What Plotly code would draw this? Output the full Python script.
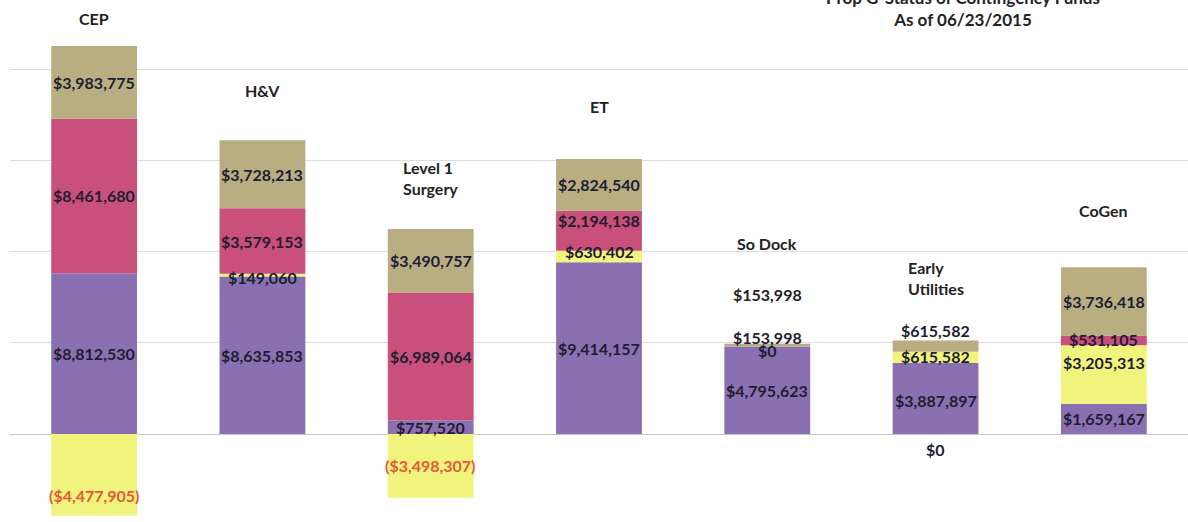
import plotly.graph_objects as go

categories = ["CEP", "H&V", "Level 1<br>Surgery", "ET", "So Dock", "Early<br>Utilities", "CoGen"]
purple_vals = [8812530, 8635853, 757520, 9414157, 4795623, 3887897, 1659167]
yellow_vals = [-4477905, 149060, -3498307, 630402, 0, 615582, 3205313]
red_vals = [8461680, 3579153, 6989064, 2194138, 0, 0, 531105]
olive_vals = [3983775, 3728213, 3490757, 2824540, 153998, 615582, 3736418]
extra_labels = [("So Dock", 153998)]
title_text = "Prop G-Status of Contingency Funds<br>As of 06/23/2015"

series = [
    ("purple", purple_vals, "#8a70b0"),
    ("yellow", yellow_vals, "#f1f47c"),
    ("red", red_vals, "#c9507a"),
    ("olive", olive_vals, "#b8ae82"),
]

# per-label pixel nudges (style only)
label_shift = {
    "purple": [0, 0, 0, 0, 0, -2, 0],
    "yellow": [-21, -2, 0, 5, -4, 1, 12],
    "red": [0, 0, 0, 10, None, -98, 1],
    "olive": [0, 0, 0, 0, 8, 16, 0],
}
cat_shift = [28, 50, 51, 53, 100, 63, 57]

FONT = "Lato"
LBL_COLOR = "#1d1d33"
NEG_COLOR = "#e4583a"
FS = 16


def money(v):
    s = "${:,.0f}".format(abs(v))
    return "(" + s + ")" if v < 0 else s


fig = go.Figure()
for name, vals, color in series:
    fig.add_trace(go.Bar(
        x=categories, y=vals, name=name, marker=dict(color=color, line=dict(width=0)),
        width=0.51, textposition="none", hoverinfo="skip",
    ))

annotations = []
pos_base = [0.0] * len(categories)
neg_base = [0.0] * len(categories)
for name, vals, color in series:
    for i, v in enumerate(vals):
        if v >= 0:
            center = pos_base[i] + v / 2
            pos_base[i] += v
        else:
            center = neg_base[i] + v / 2
            neg_base[i] += v
        sh = label_shift[name][i]
        if sh is None:
            continue
        annotations.append(dict(
            x=categories[i], y=center, text=money(v), showarrow=False,
            xref="x", yref="y", yshift=sh,
            font=dict(family=FONT, size=FS, weight="bold",
                      color=NEG_COLOR if v < 0 else LBL_COLOR),
        ))

for i, c in enumerate(categories):
    annotations.append(dict(
        x=c, y=pos_base[i], text=c, showarrow=False, xref="x", yref="y",
        yshift=cat_shift[i], align="left",
        font=dict(family=FONT, size=FS, weight="bold", color="#222222"),
    ))

for c, v in extra_labels:
    i = categories.index(c)
    annotations.append(dict(
        x=c, y=pos_base[i], text=money(v), showarrow=False, xref="x", yref="y",
        yshift=49, font=dict(family=FONT, size=FS, weight="bold", color="#222222"),
    ))

annotations.append(dict(
    x=(963 - 10) / 1178, y=1, xref="paper", yref="paper", text=title_text,
    showarrow=False, xanchor="center", yanchor="top", yshift=15, align="center",
    font=dict(family=FONT, size=17, weight="bold", color="#222222"),
))

px_per_m = 18.25
zero_px = 434
height = 522
fig.update_layout(
    width=1188, height=522,
    barmode="relative", bargap=0.49,
    showlegend=False,
    paper_bgcolor="white", plot_bgcolor="white",
    margin=dict(l=10, r=0, t=0, b=0),
    annotations=annotations,
    xaxis=dict(showticklabels=False, showgrid=False, zeroline=False, showline=False,
               ticks="", range=[-0.5, 6.5]),
    yaxis=dict(range=[-(height - zero_px) / px_per_m * 1e6, zero_px / px_per_m * 1e6],
               dtick=5e6, showticklabels=False, showgrid=True, gridcolor="#dcdcdc",
               gridwidth=1, zeroline=True, zerolinecolor="#c8c8c8", zerolinewidth=1,
               ticks="", showline=False),
)

fig.write_html(
    "out.html",
    config={"displayModeBar": False},
    post_script="document.body.style.margin='0';document.body.style.padding='0';",
)
